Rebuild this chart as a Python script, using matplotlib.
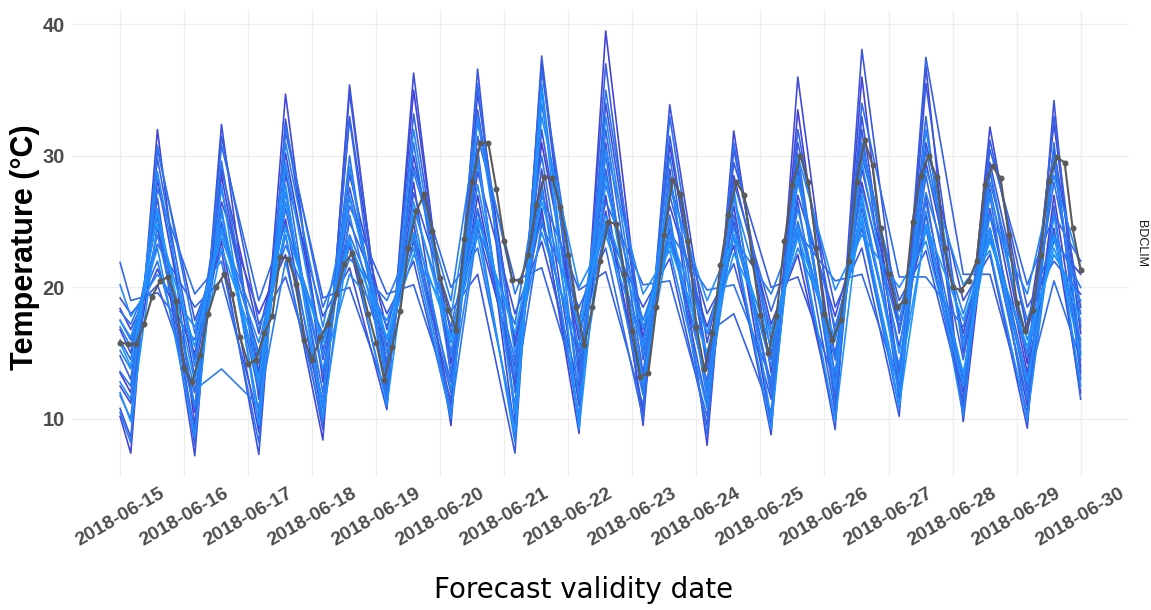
import numpy as np
import pandas as pd
import matplotlib
matplotlib.use("Agg")
import matplotlib.pyplot as plt
from matplotlib.colors import LinearSegmentedColormap
from matplotlib import font_manager as fm

# --- Data ---
run_start = pd.Timestamp("2018-06-15 00:00")
# members are sampled at the daily minimum (04h) and maximum (14h)
member_hours = [0] + [24 * d + h for d in range(15) for h in (4, 14)] + [360]
obs_hours = list(range(0, 361, 3))
tick_days = pd.date_range("2018-06-15", "2018-06-30", freq="D")
tick_labels = [d.strftime("%Y-%m-%d") for d in tick_days]
y_ticks = [10, 20, 30, 40]

member_start = [13.5, 10.2, 18.4, 12.5, 16.8, 10.8, 19.2, 14.8, 17.5, 11.8, 21.9,
                16.0, 13.6, 18.2, 10.5, 17.0, 15.2, 20.2, 12.8, 17.5, 12.0, 15.8]
member_end = [16.5, 14.0, 12.0, 18.5, 13.5, 21.0, 15.0, 19.5, 11.5, 17.0, 22.0,
              14.5, 13.0, 18.0, 20.0, 15.5, 16.0, 21.5, 12.5, 19.0, 14.8, 17.5]

# rows: 2018-06-15 .. 2018-06-29, columns: ensemble members
daily_min = [
    [12.0, 7.4, 16.8, 11.2, 15.0, 8.6, 18.0, 13.0, 16.0, 10.0, 19.0, 14.5, 12.5, 17.2, 8.2, 15.5, 13.8, 17.8, 11.5, 16.2, 9.8, 14.0],
    [10.5, 9.5, 15.0, 13.2, 7.2, 17.5, 12.0, 8.0, 18.5, 14.5, 16.0, 9.0, 19.5, 10.8, 16.5, 12.2, 11.0, 17.0, 14.0, 8.6, 15.5, 12.8],
    [13.5, 16.5, 9.0, 18.0, 11.5, 7.3, 15.0, 17.2, 10.0, 14.2, 12.0, 19.0, 8.2, 13.0, 16.8, 11.0, 10.5, 15.8, 12.5, 9.5, 13.0, 14.8],
    [15.2, 10.0, 12.8, 8.4, 17.8, 14.5, 9.2, 11.5, 19.2, 13.5, 10.8, 16.0, 18.5, 12.0, 16.5, 9.8, 17.0, 11.2, 13.8, 14.8, 10.2, 15.8],
    [11.2, 14.0, 16.8, 12.5, 10.7, 18.0, 13.0, 15.5, 11.8, 19.5, 12.0, 17.0, 14.5, 11.5, 19.0, 13.8, 15.0, 12.8, 17.5, 16.0, 11.0, 16.2],
    [14.2, 9.5, 11.0, 16.5, 13.2, 10.2, 18.2, 12.0, 15.0, 11.5, 20.0, 12.8, 17.0, 13.5, 10.5, 19.0, 12.2, 14.8, 10.0, 17.8, 15.8, 16.2],
    [12.5, 15.5, 8.8, 14.0, 18.0, 10.0, 7.4, 16.0, 13.0, 20.5, 9.5, 12.0, 14.5, 11.0, 17.2, 19.5, 8.2, 13.5, 15.0, 10.5, 9.0, 16.5],
    [16.0, 8.9, 13.5, 11.0, 12.5, 15.0, 14.0, 10.2, 19.8, 12.0, 17.5, 18.5, 9.5, 16.5, 13.0, 14.5, 11.5, 10.0, 15.5, 20.0, 9.2, 17.0],
    [12.0, 15.2, 10.5, 16.2, 9.5, 18.5, 13.0, 14.5, 11.0, 13.5, 20.2, 10.0, 16.8, 15.8, 12.5, 17.5, 11.8, 14.8, 19.5, 15.5, 12.8, 17.0],
    [14.2, 12.8, 8.0, 17.0, 15.8, 9.5, 18.0, 11.0, 13.8, 16.5, 10.2, 14.5, 8.8, 19.8, 12.0, 15.0, 11.5, 12.5, 10.8, 19.0, 16.5, 15.0],
    [9.5, 17.2, 13.5, 8.8, 12.2, 16.0, 11.5, 20.0, 14.5, 10.5, 18.2, 12.5, 15.0, 13.0, 11.8, 19.5, 14.0, 16.8, 10.0, 9.2, 15.5, 16.5],
    [13.0, 10.0, 17.8, 14.5, 11.5, 9.2, 18.5, 12.8, 10.5, 16.5, 20.5, 11.0, 15.0, 17.0, 12.0, 14.5, 13.5, 16.2, 12.5, 19.8, 9.8, 16.0],
    [17.0, 12.0, 11.0, 15.5, 13.2, 16.5, 10.2, 19.0, 11.5, 13.8, 12.5, 20.8, 16.8, 10.8, 18.2, 14.0, 17.5, 12.0, 15.0, 20.0, 13.0, 11.0],
    [11.0, 16.5, 9.8, 12.0, 19.0, 10.8, 15.0, 11.5, 21.0, 14.5, 10.5, 17.0, 13.0, 16.0, 12.8, 18.0, 10.2, 15.5, 20.2, 12.5, 13.5, 17.5],
    [14.2, 11.0, 13.5, 16.5, 9.3, 16.8, 12.0, 18.5, 10.5, 13.0, 20.2, 12.5, 9.8, 15.0, 17.5, 11.5, 14.8, 19.5, 10.0, 16.0, 12.8, 15.5],
]
daily_max = [
    [24.6, 32.0, 21.4, 28.2, 25.6, 30.5, 20.2, 26.8, 23.3, 29.8, 19.6, 25.4, 27.5, 22.0, 30.8, 24.0, 26.0, 21.0, 28.8, 23.0, 24.8, 25.8],
    [28.5, 29.0, 23.5, 26.5, 32.4, 22.8, 24.8, 31.5, 20.6, 27.5, 25.0, 30.8, 22.0, 29.6, 24.2, 13.8, 26.0, 23.8, 25.6, 27.8, 24.5, 23.0],
    [30.2, 25.2, 34.7, 22.5, 28.5, 32.8, 24.0, 20.8, 31.8, 26.0, 29.0, 24.8, 32.3, 27.2, 23.2, 22.0, 31.0, 24.0, 26.5, 29.5, 27.8, 24.5],
    [23.2, 33.0, 28.6, 35.4, 21.5, 25.0, 34.8, 27.6, 20.0, 26.2, 32.8, 24.0, 23.5, 30.0, 22.2, 25.5, 27.0, 29.2, 21.0, 26.8, 23.8, 23.5],
    [35.0, 28.0, 24.8, 30.0, 36.3, 22.0, 27.2, 23.5, 33.2, 20.2, 29.2, 24.0, 26.0, 31.0, 23.8, 28.8, 25.5, 32.0, 23.0, 22.5, 26.5, 24.2],
    [27.0, 34.8, 30.5, 24.5, 28.8, 36.6, 21.0, 33.5, 25.8, 31.5, 23.0, 35.5, 26.0, 29.5, 24.5, 32.5, 25.0, 27.8, 33.0, 30.0, 24.0, 25.2],
    [31.0, 26.0, 37.0, 29.0, 23.5, 32.0, 37.6, 25.5, 27.0, 21.5, 36.5, 24.8, 28.0, 34.0, 30.0, 25.0, 35.5, 27.5, 24.2, 33.0, 35.0, 26.5],
    [25.8, 39.5, 27.0, 34.0, 31.0, 24.5, 29.0, 37.0, 21.2, 32.0, 26.5, 23.0, 35.0, 25.0, 30.0, 27.8, 24.8, 33.0, 30.5, 24.0, 28.5, 25.5],
    [30.8, 24.0, 29.0, 26.2, 33.9, 22.2, 28.0, 24.5, 31.5, 27.0, 20.5, 33.0, 25.5, 24.2, 30.0, 23.5, 28.5, 25.0, 22.8, 27.5, 24.0, 23.2],
    [26.2, 28.5, 31.9, 23.2, 25.0, 30.5, 21.8, 29.5, 24.0, 18.0, 28.0, 25.5, 31.0, 20.2, 27.0, 23.8, 24.6, 26.8, 27.5, 23.8, 24.0, 22.6],
    [33.5, 22.5, 27.0, 36.0, 29.0, 24.0, 31.0, 20.8, 26.5, 32.0, 24.2, 30.2, 25.0, 28.0, 29.5, 24.8, 26.0, 23.0, 28.5, 30.0, 24.5, 23.8],
    [29.0, 36.0, 25.0, 28.0, 33.0, 38.1, 23.0, 30.0, 32.0, 26.0, 21.0, 34.0, 27.5, 24.5, 31.0, 26.5, 30.5, 25.0, 29.5, 24.0, 27.0, 25.5],
    [24.5, 29.5, 36.8, 25.5, 31.0, 27.0, 35.5, 22.8, 37.5, 28.5, 33.0, 20.8, 26.5, 30.5, 24.8, 27.2, 25.8, 32.0, 29.0, 23.5, 24.5, 24.8],
    [28.8, 24.5, 27.5, 32.2, 22.5, 29.5, 26.0, 31.2, 21.0, 25.5, 30.5, 24.5, 27.0, 23.8, 28.0, 24.2, 29.0, 25.5, 22.8, 27.2, 24.5, 23.5],
    [32.5, 27.0, 24.5, 30.5, 34.2, 23.5, 29.5, 22.0, 26.2, 33.0, 25.5, 20.5, 31.0, 28.0, 24.0, 30.0, 23.8, 28.5, 25.5, 22.5, 24.0, 23.0],
]

# BDCLIM observations, 3-hourly
obs_temp = [
    15.8, 15.7, 15.7, 17.2, 19.3, 20.5, 20.8, 19.0,
    13.9, 12.8, 14.9, 18.0, 20.0, 21.0, 19.5, 16.2,
    14.2, 14.5, 16.5, 17.8, 22.3, 22.2, 20.3, 16.0,
    14.5, 16.2, 17.2, 19.5, 21.8, 22.6, 20.5, 18.0,
    15.8, 13.0, 15.5, 18.2, 23.0, 25.8, 27.1, 24.3,
    20.7, 18.3, 16.8, 23.7, 28.0, 31.0, 31.0, 27.5,
    23.5, 20.6, 20.5, 22.5, 26.3, 28.4, 28.3, 26.1,
    22.5, 18.5, 15.6, 18.5, 22.0, 25.0, 24.8, 21.0,
    16.7, 13.2, 13.5, 18.5, 24.0, 28.2, 27.1, 23.5,
    17.0, 13.8, 16.5, 21.7, 25.5, 28.0, 27.0, 22.0,
    17.9, 15.0, 17.8, 23.5, 27.8, 30.0, 28.0, 23.0,
    18.0, 16.0, 17.5, 22.0, 28.0, 31.2, 29.3, 24.5,
    21.0, 18.5, 19.0, 25.0, 28.5, 30.0, 28.4, 23.0,
    20.0, 19.8, 20.5, 22.0, 27.8, 29.2, 28.3, 24.0,
    18.8, 16.7, 18.3, 22.5, 28.1, 29.9, 29.5, 24.5,
    21.3,
]

# --- Figure ---
narrow = any(f.name == "Liberation Sans Narrow" for f in fm.fontManager.ttflist)
plt.rcParams["font.family"] = ["Liberation Sans", "DejaVu Sans"]

fig = plt.figure(figsize=(11.51, 6.10), dpi=100)
ax = fig.add_axes([0.0626, 0.218, 0.918, 0.766])

member_times = run_start + pd.to_timedelta(member_hours, unit="h")
obs_times = run_start + pd.to_timedelta(obs_hours, unit="h")

n_members = len(member_start)
cmap = LinearSegmentedColormap.from_list("ens", ["#4640D2", "#1E96FF"])
for m in range(n_members):
    series = [member_start[m]]
    for d in range(len(daily_min)):
        series += [daily_min[d][m], daily_max[d][m]]
    series.append(member_end[m])
    ax.plot(member_times, series, color=cmap(m / (n_members - 1)), lw=1.2, zorder=2)

ax.plot(obs_times, obs_temp, color="#5A5A5A", lw=1.5, marker="o", ms=3.3,
        zorder=5)

ax.margins(x=0.05, y=0.05)
ax.set_xticks(tick_days)
ax.set_xticklabels(tick_labels, rotation=30, ha="center", va="top",
                   fontsize=14, fontweight="bold", color="#4D4D4D")
ax.set_yticks(y_ticks)
ax.set_yticklabels([str(v) for v in y_ticks], fontsize=14.5,
                   fontweight="bold", color="#4D4D4D")
ax.tick_params(axis="both", length=0)
ax.tick_params(axis="x", pad=6)
ax.tick_params(axis="y", pad=5)
ax.grid(True, color="#EEEEEE", lw=0.9)
ax.set_axisbelow(True)
for s in ax.spines.values():
    s.set_visible(False)

fig.text(0.0217, 0.595, "Temperature (°C)", rotation=90, ha="center",
         va="center", fontsize=22, fontweight="bold", color="black")
if narrow:
    fig.text(0.507, 0.033, "Forecast validity date", ha="center", va="center",
             fontsize=28, family=["Liberation Sans Narrow", "DejaVu Sans"])
else:
    fig.text(0.507, 0.033, "Forecast validity date", ha="center", va="center",
             fontsize=20, family=["DejaVu Sans"])
fig.text(0.9913, 0.60, "BDCLIM", rotation=-90, ha="center", va="center",
         fontsize=9, color="#1A1A1A")

fig.savefig("out.png", dpi=100)
